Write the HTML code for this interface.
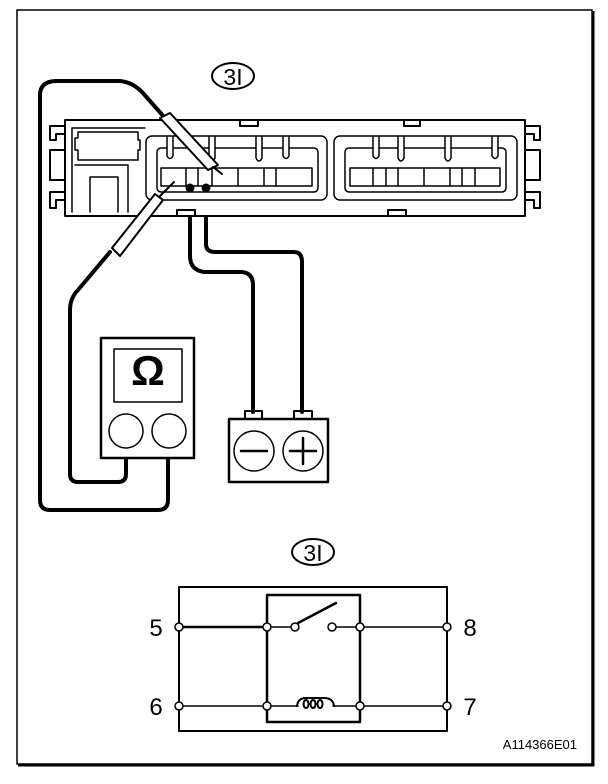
<!DOCTYPE html>
<html><head><style>body{margin:0;background:#fff}svg{display:block}</style></head><body>
<svg width="608" height="784" viewBox="0 0 608 784" xmlns="http://www.w3.org/2000/svg" font-family="Liberation Sans, sans-serif">
<rect x="17" y="10" width="575" height="754" fill="none" stroke="#000" stroke-width="1.5"/>
<line x1="593" y1="11" x2="593" y2="766" stroke="#000" stroke-width="3"/>
<line x1="18" y1="765" x2="594" y2="765" stroke="#000" stroke-width="3"/>
<g fill="none" stroke="#000" stroke-linejoin="round" stroke-linecap="round">
<!-- wires -->
<path d="M168,458 V500 Q168,510 158,510 H50 Q40,510 40,500 V95 Q40,82 55,81 H120 Q132,82 142,92 L165,118" stroke-width="4"/>
<path d="M126,458 V474 Q126,482 118,482 H78 Q70,482 70,474 V310 Q70,298 78,290 L110,252" stroke-width="4"/>
<path d="M190,188 V256 Q190,270 204,272 H242 Q253,273 253,285 V412" stroke-width="4"/>
<path d="M206,188 V244 Q206,252 215,252 H294 Q302,252 302,262 V412" stroke-width="4"/>
<!-- connector -->
<rect x="65" y="120" width="460" height="96" stroke-width="2" fill="#fff"/>
<path d="M65,126 H50 V140 H56 V134 H65 M65,150 H50 V180 H65 M65,192 H50 V208 H56 V200 H65" stroke-width="2"/>
<path d="M525,126 H540 V140 H534 V134 H525 M525,150 H540 V180 H525 M525,192 H540 V208 H534 V200 H525" stroke-width="2"/>
<rect x="240" y="120" width="18" height="6" stroke-width="2"/>
<rect x="404" y="120" width="16" height="6" stroke-width="2"/>
<rect x="177" y="210" width="18" height="6" stroke-width="2"/>
<rect x="388" y="210" width="18" height="6" stroke-width="2"/>
<path d="M72,128 H145 M72,128 V212 M75,138 H78 V132 H138 V140 H140 V150 H138 V160 H78 V150 H75 Z" stroke-width="1.5"/>
<path d="M75,165 H128 V212 M90,177 H118 V212 M90,177 V212" stroke-width="1.5"/>
<rect x="146" y="136" width="181" height="64" rx="6" stroke-width="1.5"/>
<rect x="157" y="148" width="161" height="44" rx="4" stroke-width="1.5"/>
<rect x="334" y="136" width="183" height="64" rx="6" stroke-width="1.5"/>
<rect x="345" y="148" width="161" height="44" rx="4" stroke-width="1.5"/>
<rect x="161" y="168" width="151" height="18" stroke-width="1.5" fill="#fff"/>
<rect x="350" y="168" width="150" height="18" stroke-width="1.5" fill="#fff"/>
<path d="M186,168 V186 M198,168 V186 M212,168 V186 M238,168 V186 M264,168 V186 M276,168 V186 M373,168 V186 M386,168 V186 M398,168 V186 M424,168 V186 M450,168 V186 M462,168 V186 M475,168 V186" stroke-width="1.5"/>
<path d="M167,137 V156 Q170,161 173,156 V137 M209,137 V158 Q212,164 215,158 V137 M256,137 V158 Q259,164 262,158 V137 M283,137 V156 Q286,161 289,156 V137 M373,137 V156 Q376,161 379,156 V137 M398,137 V158 Q401,164 404,158 V137 M445,137 V158 Q448,164 451,158 V137 M492,137 V156 Q495,161 498,156 V137" stroke-width="1.5" fill="#fff"/>
<!-- probes -->
<path d="M160,118 L170,113 L218,165 L208,170 Z" stroke-width="2" fill="#fff"/>
<line x1="213" y1="167" x2="222" y2="174" stroke-width="2"/>
<path d="M112,248 L120,256 L163,200 L155,194 Z" stroke-width="2" fill="#fff"/>
<line x1="160" y1="196" x2="174" y2="182" stroke-width="2"/>
<circle cx="190" cy="188" r="4" fill="#000"/>
<circle cx="206" cy="188" r="4" fill="#000"/>
<!-- meter -->
<rect x="101" y="338" width="93" height="120" stroke-width="2.5" fill="#fff"/>
<rect x="114" y="349" width="68" height="53" stroke-width="1.5"/>
<circle cx="126" cy="431" r="17" stroke-width="1.5"/>
<circle cx="169" cy="431" r="17" stroke-width="1.5"/>
<!-- battery -->
<rect x="229" y="419" width="99" height="63" stroke-width="2.5" fill="#fff"/>
<rect x="245" y="411" width="17" height="8" stroke-width="2"/>
<rect x="294" y="411" width="18" height="8" stroke-width="2"/>
<circle cx="254" cy="451" r="20" stroke-width="1.5"/>
<circle cx="303" cy="451" r="20" stroke-width="1.5"/>
<line x1="241" y1="451" x2="267" y2="451" stroke-width="2.5"/>
<line x1="290" y1="451" x2="316" y2="451" stroke-width="2.5"/>
<line x1="303" y1="438" x2="303" y2="464" stroke-width="2.5"/>
<!-- labels circles -->
<ellipse cx="233" cy="76" rx="21" ry="13" stroke-width="2"/>
<ellipse cx="313" cy="552" rx="21" ry="13" stroke-width="2"/>
<!-- relay -->
<rect x="179" y="587" width="268" height="144" stroke-width="2"/>
<rect x="267" y="595" width="93" height="127" stroke-width="2.5"/>
<line x1="179" y1="627" x2="267" y2="627" stroke-width="2.5"/>
<line x1="267" y1="627" x2="295" y2="627" stroke-width="1.5"/>
<line x1="332" y1="627" x2="447" y2="627" stroke-width="1.5"/>
<line x1="298" y1="623" x2="336" y2="603" stroke-width="2.5"/>
<line x1="179" y1="706" x2="298" y2="706" stroke-width="1.5"/>
<line x1="333" y1="706" x2="447" y2="706" stroke-width="1.5"/>
<path d="M297,706 Q298,698 306,698 H324 Q333,698 334,706" stroke-width="2"/>
<path d="M306,700 a2.5,4 0 1,0 0.1,0 M313,700 a2.5,4 0 1,0 0.1,0 M320,700 a2.5,4 0 1,0 0.1,0" stroke-width="2"/>
</g>
<g fill="#fff" stroke="#000" stroke-width="1.5">
<circle cx="179" cy="627" r="4"/><circle cx="267" cy="627" r="4"/><circle cx="295" cy="627" r="4"/><circle cx="332" cy="627" r="4"/><circle cx="360" cy="627" r="4"/><circle cx="447" cy="627" r="4"/>
<circle cx="179" cy="706" r="4"/><circle cx="267" cy="706" r="4"/><circle cx="360" cy="706" r="4"/><circle cx="447" cy="706" r="4"/>
</g>
<text x="148" y="385" font-size="42" font-weight="bold" text-anchor="middle">Ω</text>
<text x="233" y="85" font-size="23" text-anchor="middle">3I</text>
<text x="313" y="561" font-size="23" text-anchor="middle">3I</text>
<text x="156" y="636" font-size="24" text-anchor="middle">5</text>
<text x="156" y="715" font-size="24" text-anchor="middle">6</text>
<text x="470" y="636" font-size="24" text-anchor="middle">8</text>
<text x="470" y="715" font-size="24" text-anchor="middle">7</text>
<text x="577" y="749" font-size="13" text-anchor="end">A114366E01</text>
</svg>
</body></html>
